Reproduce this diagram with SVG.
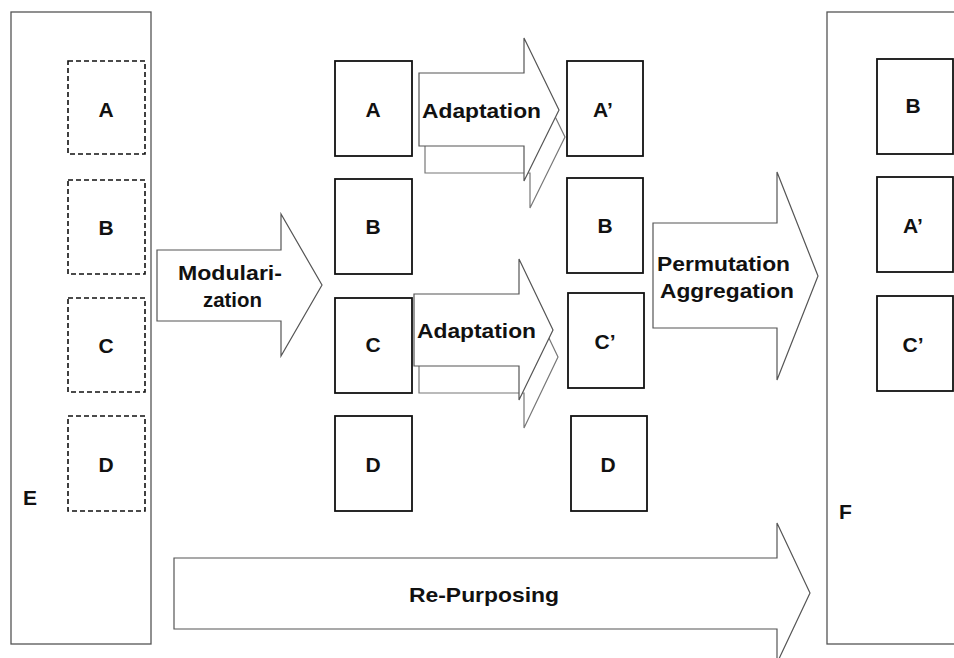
<svg xmlns="http://www.w3.org/2000/svg" width="954" height="658" viewBox="0 0 954 658">
<style>
.cont{fill:#fff;stroke:#555;stroke-width:1.3}
.box{fill:#fff;stroke:#111;stroke-width:1.8}
.dash{fill:#fff;stroke:#111;stroke-width:1.6;stroke-dasharray:5,3}
.arr{fill:#fff;stroke:#555;stroke-width:1.2}
.arrb{fill:#fff;stroke:#777;stroke-width:1.2}
text{font-family:"Liberation Sans",Arial,sans-serif;font-weight:bold;font-size:21px;fill:#111}
.c{text-anchor:middle}
</style>
<rect width="954" height="658" fill="#fff"/>
<g id="E">
<rect class="cont" x="11" y="12" width="140" height="632"/>
<text x="23" y="505">E</text>
</g>
<g id="F">
<rect class="cont" x="827" y="12" width="160" height="632"/>
<text x="839" y="519">F</text>
</g>
<g id="E-A"><rect class="dash" x="68" y="61" width="77" height="93"/><text class="c" x="106" y="117">A</text></g>
<g id="E-B"><rect class="dash" x="68" y="180" width="77" height="94"/><text class="c" x="106" y="235">B</text></g>
<g id="E-C"><rect class="dash" x="68" y="298" width="77" height="94"/><text class="c" x="106" y="353">C</text></g>
<g id="E-D"><rect class="dash" x="68" y="416" width="77" height="95"/><text class="c" x="106" y="472">D</text></g>

<g id="M-A"><rect class="box" x="335" y="61" width="77" height="95"/><text class="c" x="373" y="117">A</text></g>
<g id="M-B"><rect class="box" x="335" y="179" width="77" height="95"/><text class="c" x="373" y="234">B</text></g>
<g id="M-C"><rect class="box" x="335" y="298" width="77" height="95"/><text class="c" x="373" y="352">C</text></g>
<g id="M-D"><rect class="box" x="335" y="416" width="77" height="95"/><text class="c" x="373" y="472">D</text></g>

<g id="R-A"><rect class="box" x="567" y="61" width="76" height="95"/><text class="c" x="603" y="117">A’</text></g>
<g id="R-B"><rect class="box" x="567" y="178" width="76" height="95"/><text class="c" x="605" y="233">B</text></g>
<g id="R-C"><rect class="box" x="568" y="293" width="76" height="95"/><text class="c" x="605" y="349">C’</text></g>
<g id="R-D"><rect class="box" x="571" y="416" width="76" height="95"/><text class="c" x="608" y="472">D</text></g>

<g id="F-B"><rect class="box" x="877" y="59" width="76" height="95"/><text class="c" x="913" y="113">B</text></g>
<g id="F-A"><rect class="box" x="877" y="177" width="76" height="95"/><text class="c" x="913" y="233">A’</text></g>
<g id="F-C"><rect class="box" x="877" y="296" width="76" height="95"/><text class="c" x="913" y="352">C’</text></g>

<g id="connectors">
<g id="modularization">
<polygon class="arr" points="157,250 281,250 281,214 322,285 281,356 281,321 157,321"/>
<text x="178" y="280" textLength="104" lengthAdjust="spacingAndGlyphs">Modulari-</text>
<text x="203" y="307" textLength="59" lengthAdjust="spacingAndGlyphs">zation</text>
</g>
<g id="adaptation1">
<polygon class="arrb" points="425,100 530,100 530,65 565,137 530,208 530,173 425,173"/>
<polygon class="arr" points="419,73 524,73 524,38 559,110 524,181 524,146 419,146"/>
<text x="422" y="118" textLength="119" lengthAdjust="spacingAndGlyphs">Adaptation</text>
</g>
<g id="adaptation2">
<polygon class="arrb" points="419,321 524,321 524,286 558,357 524,428 524,393 419,393"/>
<polygon class="arr" points="414,294 519,294 519,259 553,330 519,400 519,366 414,366"/>
<text x="417" y="338" textLength="119" lengthAdjust="spacingAndGlyphs">Adaptation</text>
</g>
<g id="permutation">
<polygon class="arr" points="653,223 777,223 777,172 818,276 777,380 777,328 653,328"/>
<text x="657" y="271" textLength="133" lengthAdjust="spacingAndGlyphs">Permutation</text>
<text x="660" y="298" textLength="134" lengthAdjust="spacingAndGlyphs">Aggregation</text>
</g>
<g id="repurposing">
<polygon class="arr" points="174,558 777,558 777,523 810,593 777,663 777,629 174,629"/>
<text x="409" y="602" textLength="150" lengthAdjust="spacingAndGlyphs">Re-Purposing</text>
</g>
</g>
</svg>
